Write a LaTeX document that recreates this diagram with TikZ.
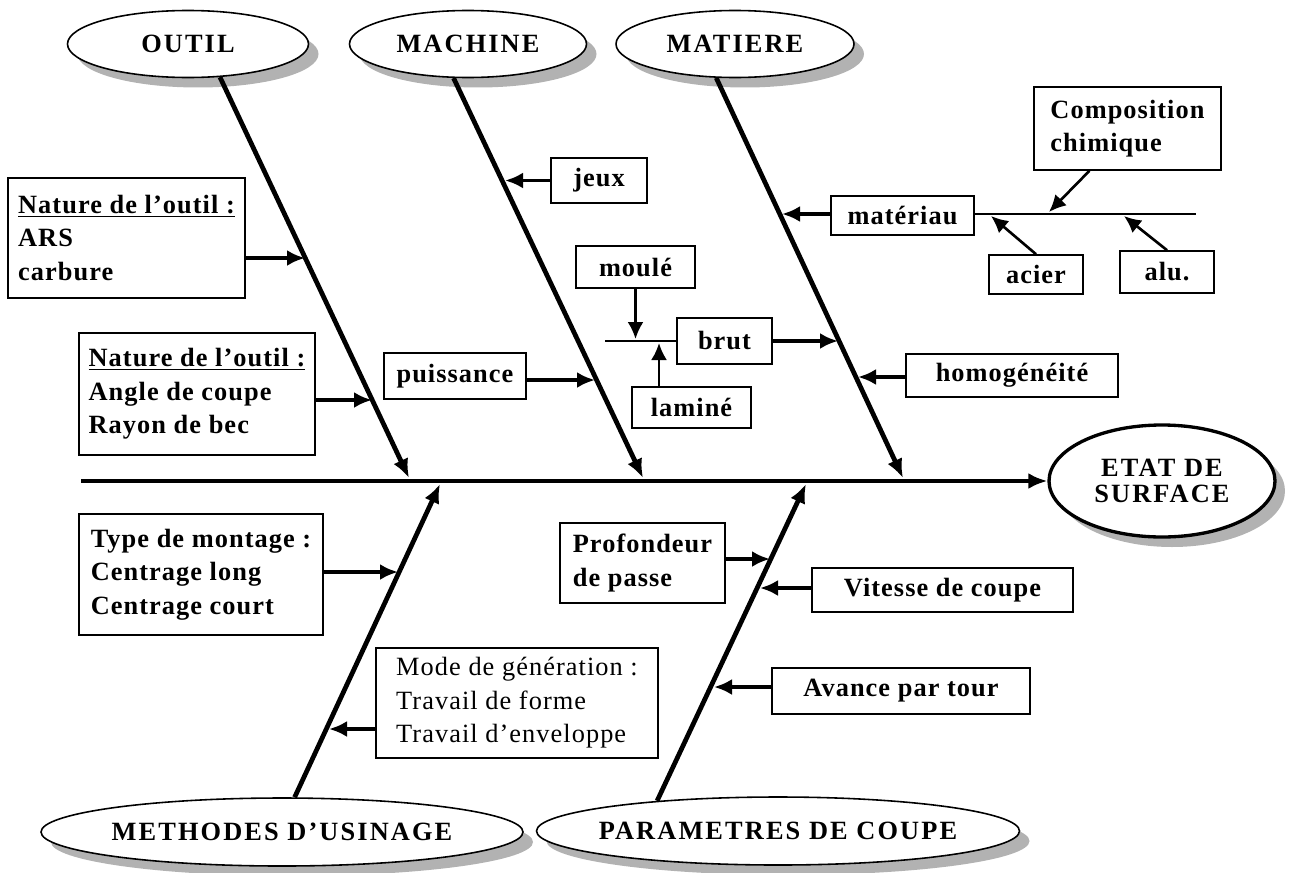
\documentclass[tikz,border=0pt]{standalone}
\usepackage{fontspec}
\setmainfont{Liberation Serif}
\newfontfamily\boxfont{Liberation Serif}[LetterSpace=4]
\newfontfamily\capfont{Liberation Serif}[LetterSpace=8]
\usetikzlibrary{arrows.meta,shapes.geometric,shadows}

\begin{document}
\begin{tikzpicture}[x=0.02cm, y=-0.02cm,
  category/.style={draw, ellipse, fill=white, line width=0.9pt, inner ysep=0pt, inner xsep=-12pt,
    font=\capfont\bfseries\fontsize{15}{15}\selectfont,
    drop shadow={shadow xshift=0.2cm, shadow yshift=-0.2cm, fill=black!30, opacity=1}},
  effect/.style={line width=1.9pt, align=center},
  cause/.style={draw, fill=white, line width=0.9pt, inner sep=0pt, align=left,
    font=\boxfont\bfseries\fontsize{15}{19}\selectfont},
  boxsize/.style 2 args={minimum width=#1*0.02cm, minimum height=#2*0.02cm},
  spine/.style={line width=2.7pt, -{Latex[length=0.38cm, width=0.32cm]}},
  twig/.style={line width=2pt, -{Latex[length=0.36cm, width=0.32cm]}},
  branch/.style={line width=1.5pt, -{Latex[length=0.34cm, width=0.32cm]}},
  subline/.style={line width=1pt}]

\useasboundingbox (0,0) rectangle (1293,872);

\node[category, boxsize={241}{67}] (outil) at (188,44) {OUTIL};
\node[category, boxsize={237}{67}] (machine) at (468,44) {MACHINE};
\node[category, boxsize={238}{67}] (matiere) at (735,44) {MATIERE};
\node[category, boxsize={482}{68}] (methodes) at (282,832) {METHODES D’USINAGE};
\node[category, boxsize={483}{68}] (parametres) at (778,831) {PARAMETRES DE COUPE};
\node[category, effect, boxsize={226}{112}] (etat) at (1162,481) {ETAT DE\\SURFACE};

\node[cause, boxsize={237}{120}] (natA) at (126.5,238) {\underline{Nature de l’outil :}\\ARS\\carbure};
\node[cause, boxsize={236}{122}] (natB) at (197,394) {\underline{Nature de l’outil :}\\Angle de coupe\\Rayon de bec};
\node[cause, boxsize={96}{45}] (jeux) at (599,180.5) {jeux};
\node[cause, boxsize={142}{46}] (puissance) at (455,376) {puissance};
\node[cause, boxsize={119}{42}] (moule) at (635.5,267) {moulé};
\node[cause, boxsize={95}{46}] (brut) at (724.5,341) {brut};
\node[cause, boxsize={119}{41}] (lamine) at (691.5,407.5) {laminé};
\node[cause, boxsize={143}{39}] (materiau) at (902.5,215.5) {matériau};
\node[cause, boxsize={187}{83}] (compo) at (1127.5,128.5) {Composition\\chimique};
\node[cause, boxsize={94}{39}] (acier) at (1036,274.5) {acier};
\node[cause, boxsize={94}{42}] (alu) at (1167,272) {alu.};
\node[cause, boxsize={212}{43}] (homog) at (1012,375.5) {homogénéité};
\node[cause, boxsize={244}{121}] (montage) at (201,574.5) {Type de montage :\\Centrage long\\Centrage court};
\node[cause, boxsize={282}{110}, font=\boxfont\fontsize{15}{19}\selectfont] (mode) at (517,703) {Mode de génération :\\Travail de forme\\Travail d’enveloppe};
\node[cause, boxsize={165}{80}] (profondeur) at (642.5,563) {Profondeur\\de passe};
\node[cause, boxsize={261}{44}] (vitesse) at (942.5,590) {Vitesse de coupe};
\node[cause, boxsize={258}{46}] (avance) at (901,691) {Avance par tour};

\coordinate (start) at (81,481);
\coordinate (jOutil) at (409,478);
\coordinate (jMachine) at (643,478);
\coordinate (jMatiere) at (903,478);
\coordinate (jMethodes) at (440,484);
\coordinate (jParam) at (806,484);

\draw[spine] (start) -- (etat.west);
\draw[spine] (outil.-46) -- (jOutil);
\draw[spine] (machine.-113) -- (jMachine);
\draw[spine] (matiere.-119) -- (jMatiere);
\draw[spine] (methodes.70) -- (jMethodes);
\draw[spine] (parametres.166) -- (jParam);

\coordinate (tNatA) at (305,258);
\coordinate (tNatB) at (372,400);
\coordinate (tJeux) at (505,180.5);
\coordinate (tPuis) at (595,380);
\coordinate (tMat) at (782,214);
\coordinate (tBrut) at (838,341);
\coordinate (tHomog) at (858,377);
\coordinate (tMont) at (398,572);
\coordinate (tMode) at (329,729);
\coordinate (tProf) at (770,559);
\coordinate (tVit) at (760,588);
\coordinate (tAv) at (714,687);

\draw[twig] (natA.east |- tNatA) -- (tNatA);
\draw[twig] (natB.east |- tNatB) -- (tNatB);
\draw[twig] (jeux.west |- tJeux) -- (tJeux);
\draw[twig] (puissance.east |- tPuis) -- (tPuis);
\draw[twig] (materiau.west |- tMat) -- (tMat);
\draw[twig] (brut.east |- tBrut) -- (tBrut);
\draw[twig] (homog.west |- tHomog) -- (tHomog);
\draw[twig] (montage.east |- tMont) -- (tMont);
\draw[twig] (mode.west |- tMode) -- (tMode);
\draw[twig] (profondeur.east |- tProf) -- (tProf);
\draw[twig] (vitesse.west |- tVit) -- (tVit);
\draw[twig] (avance.west |- tAv) -- (tAv);

\coordinate (matEnd) at (1196,214);
\coordinate (tCompo) at (1049,212);
\coordinate (tAcier) at (991,216);
\coordinate (tAlu) at (1124,216);
\draw[subline] (materiau.east |- matEnd) -- (matEnd);
\draw[branch] (compo.-132) -- (tCompo);
\draw[branch] (acier.north) -- (tAcier);
\draw[branch] (alu.north) -- (tAlu);

\coordinate (brutEnd) at (605,341);
\coordinate (tMoule) at (635.5,339);
\coordinate (tLamine) at (659,343);
\draw[subline] (brutEnd) -- (brut.west);
\draw[branch] (moule.south) -- (tMoule);
\draw[branch] (lamine.north -| tLamine) -- (tLamine);
\end{tikzpicture}
\end{document}
